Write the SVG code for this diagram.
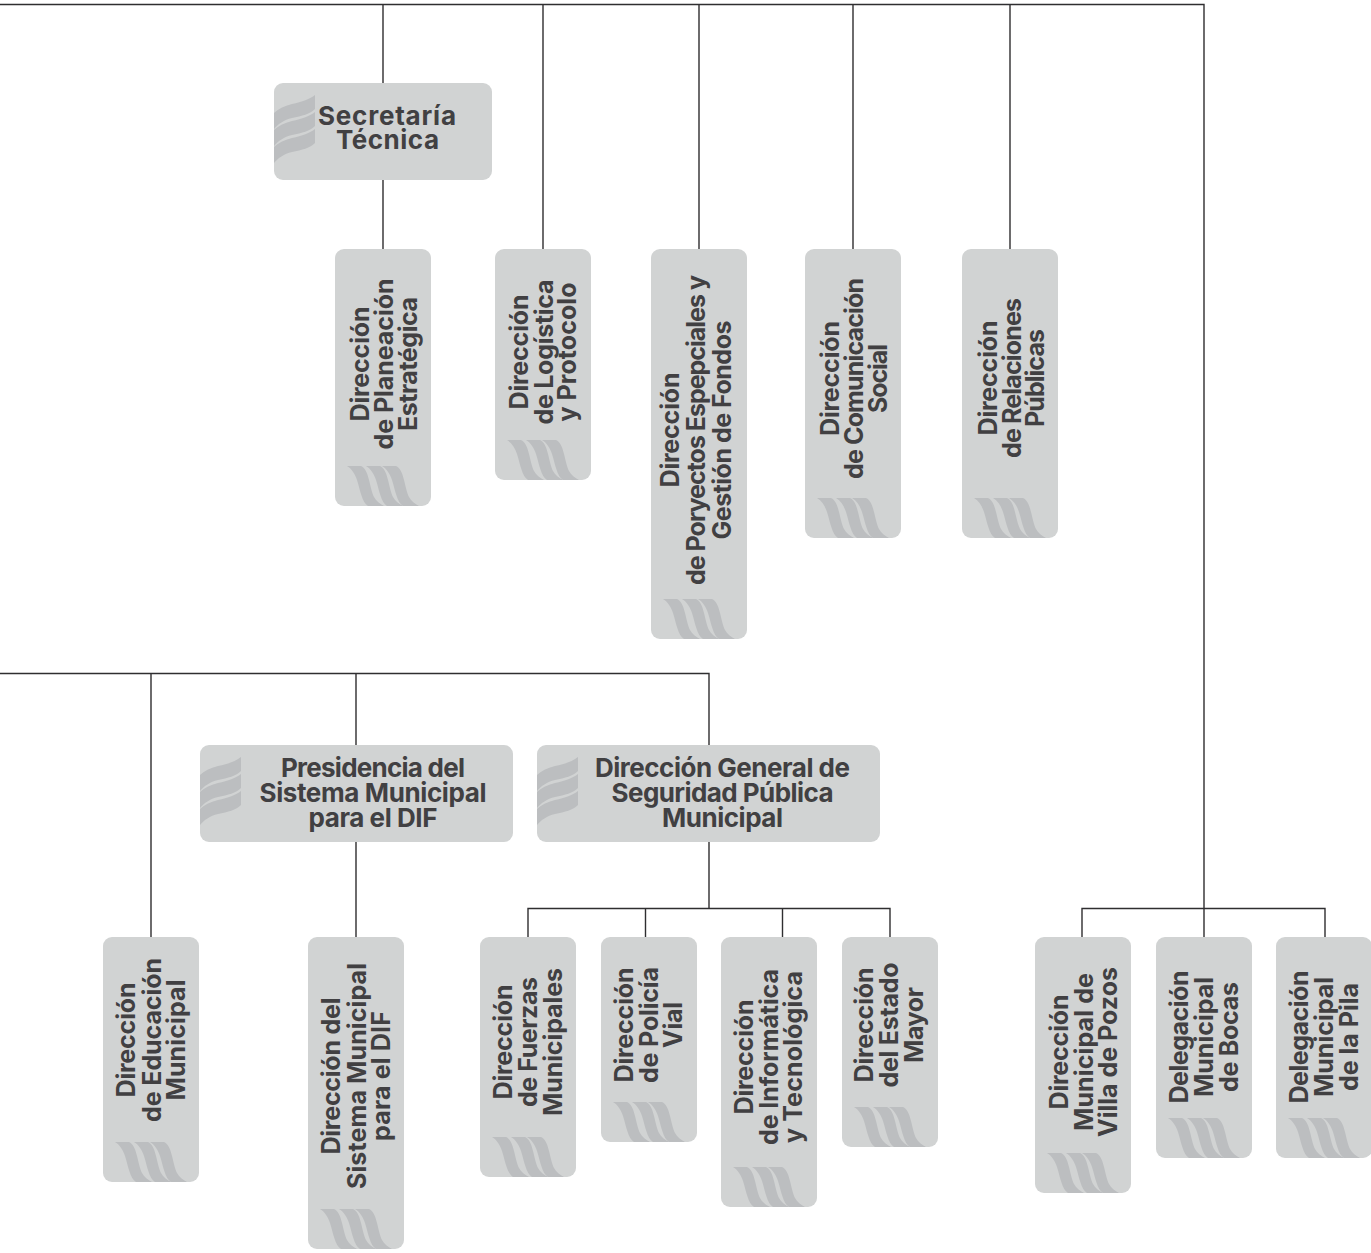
<svg xmlns="http://www.w3.org/2000/svg" width="1371" height="1253" viewBox="0 0 1371 1253">
<style>
.box{fill:#d1d3d3}
.w{fill:#bcbec0}
.con{fill:none;stroke:#2f2e30;stroke-width:1.4}
text{font-family:"Inter","Liberation Sans",sans-serif;font-weight:700;fill:#414042;text-anchor:middle;font-size:25px}
.h{font-size:26px}
</style>
<defs>
<path id="bv" class="w" d="M12,-40H26C31,-38 33,-30 34,-26C36,-18 37,-13 39,-9C41,-5 45,-2 49,0H33C30,-2 28,-6 27,-9C25,-14 24,-20 22,-26C20,-32 17,-37 12,-40Z"/>
<g id="wv"><use href="#bv"/><use href="#bv" x="19"/><use href="#bv" x="35"/></g>
<path id="bh" class="w" d="M0,30C4,26 10,23 18,21C28,19 36,16 41,12V26C36,31 28,33 18,35C10,37 4,41 0,46Z"/>
<g id="wh"><use href="#bh"/><use href="#bh" y="17"/><use href="#bh" y="34"/></g>
</defs>
<g id="connectors" class="con">
<path d="M0,4.500H1204V937M383,4.500V83M543,4.500V249M699,4.500V249M853,4.500V249M1010,4.500V249M383,180V249"/>
<path d="M1082,937V908.500H1325V937"/>
<path d="M0,673.500H709V745M151,673.500V937M356,673.500V745M356,842V937M709,842V908.500"/>
<path d="M528,937V908.500H890V937M645.500,908.500V937M782.500,908.500V937"/>
</g>
<g id="n-secretaria"><rect class="box" x="274" y="83" width="218" height="97" rx="9"/><use href="#wh" x="274" y="83"/><text class="h"><tspan x="387" y="125" textLength="138">Secretaría</tspan><tspan x="387.500" y="149" textLength="103">Técnica</tspan></text></g>
<g id="n-presidencia"><rect class="box" x="200" y="745" width="313" height="97" rx="9"/><use href="#wh" x="200" y="745"/><text class="h"><tspan x="373" y="777" textLength="184">Presidencia del</tspan><tspan x="373" y="802" textLength="227">Sistema Municipal</tspan><tspan x="373" y="827" textLength="129">para el DIF</tspan></text></g>
<g id="n-seguridad"><rect class="box" x="537" y="745" width="343" height="97" rx="9"/><use href="#wh" x="537" y="745"/><text class="h"><tspan x="722.500" y="777" textLength="255">Dirección General de</tspan><tspan x="722.500" y="802" textLength="222">Seguridad Pública</tspan><tspan x="722.500" y="827" textLength="121">Municipal</tspan></text></g>

<g id="n-planeacion"><rect class="box" x="335" y="249" width="96" height="257" rx="9"/><use href="#wv" x="335" y="506"/><text transform="translate(369,364) rotate(-90)"><tspan x="0" y="0" textLength="115">Dirección</tspan><tspan x="0" y="24" textLength="171">de Planeación</tspan><tspan x="0" y="48" textLength="134">Estratégica</tspan></text></g>
<g id="n-logistica"><rect class="box" x="495" y="249" width="96" height="231" rx="9"/><use href="#wv" x="495" y="480"/><text transform="translate(528,352) rotate(-90)"><tspan x="0" y="0" textLength="115">Dirección</tspan><tspan x="0" y="24.500" textLength="145">de Logística</tspan><tspan x="0" y="48" textLength="139">y Protocolo</tspan></text></g>
<g id="n-proyectos"><rect class="box" x="651" y="249" width="96" height="390" rx="9"/><use href="#wv" x="651" y="639"/><text transform="translate(679,430) rotate(-90)"><tspan x="0" y="0" textLength="115">Dirección</tspan><tspan x="0" y="26" textLength="310">de Poryectos Espepciales y</tspan><tspan x="0" y="52" textLength="219">Gestión de Fondos</tspan></text></g>
<g id="n-comunicacion"><rect class="box" x="805" y="249" width="96" height="289" rx="9"/><use href="#wv" x="805" y="538"/><text transform="translate(839,378.500) rotate(-90)"><tspan x="0" y="0" textLength="115">Dirección</tspan><tspan x="0" y="24" textLength="201">de Comunicación</tspan><tspan x="0" y="48" textLength="69">Social</tspan></text></g>
<g id="n-relaciones"><rect class="box" x="962" y="249" width="96" height="289" rx="9"/><use href="#wv" x="962" y="538"/><text transform="translate(997,378) rotate(-90)"><tspan x="0" y="0" textLength="115">Dirección</tspan><tspan x="0" y="23.500" textLength="160">de Relaciones</tspan><tspan x="0" y="47" textLength="98">Públicas</tspan></text></g>

<g id="n-educacion"><rect class="box" x="103" y="937" width="96" height="245" rx="9"/><use href="#wv" x="103" y="1182"/><text transform="translate(135,1040) rotate(-90)"><tspan x="0" y="0" textLength="115">Dirección</tspan><tspan x="0" y="26" textLength="164">de Educación</tspan><tspan x="0" y="50" textLength="121">Municipal</tspan></text></g>
<g id="n-dif"><rect class="box" x="308" y="937" width="96" height="312" rx="9"/><use href="#wv" x="308" y="1249"/><text transform="translate(340,1076) rotate(-90)"><tspan x="0" y="0" textLength="157">Dirección del</tspan><tspan x="0" y="26" textLength="226">Sistema Municipal</tspan><tspan x="0" y="50" textLength="130">para el DIF</tspan></text></g>
<g id="n-fuerzas"><rect class="box" x="480" y="937" width="96" height="240" rx="9"/><use href="#wv" x="480" y="1177"/><text transform="translate(512,1042) rotate(-90)"><tspan x="0" y="0" textLength="115">Dirección</tspan><tspan x="0" y="25" textLength="130">de Fuerzas</tspan><tspan x="0" y="50" textLength="148">Municipales</tspan></text></g>
<g id="n-policia"><rect class="box" x="601" y="937" width="96" height="205" rx="9"/><use href="#wv" x="601" y="1142"/><text transform="translate(633,1025) rotate(-90)"><tspan x="0" y="0" textLength="115">Dirección</tspan><tspan x="0" y="25" textLength="116">de Policía</tspan><tspan x="0" y="49" textLength="46">Vial</tspan></text></g>
<g id="n-informatica"><rect class="box" x="721" y="937" width="96" height="270" rx="9"/><use href="#wv" x="721" y="1207"/><text transform="translate(753,1057) rotate(-90)"><tspan x="0" y="0" textLength="115">Dirección</tspan><tspan x="0" y="24.500" textLength="176">de Informática</tspan><tspan x="0" y="49" textLength="172">y Tecnológica</tspan></text></g>
<g id="n-estado"><rect class="box" x="842" y="937" width="96" height="210" rx="9"/><use href="#wv" x="842" y="1147"/><text transform="translate(873,1025) rotate(-90)"><tspan x="0" y="0" textLength="115">Dirección</tspan><tspan x="0" y="25" textLength="125">del Estado</tspan><tspan x="0" y="50" textLength="76">Mayor</tspan></text></g>
<g id="n-villa"><rect class="box" x="1035" y="937" width="96" height="256" rx="9"/><use href="#wv" x="1035" y="1193"/><text transform="translate(1068,1052) rotate(-90)"><tspan x="0" y="0" textLength="115">Dirección</tspan><tspan x="0" y="24.500" textLength="158">Municipal de</tspan><tspan x="0" y="49" textLength="170">Villa de Pozos</tspan></text></g>
<g id="n-bocas"><rect class="box" x="1156" y="937" width="96" height="221" rx="9"/><use href="#wv" x="1156" y="1158"/><text transform="translate(1188,1037) rotate(-90)"><tspan x="0" y="0" textLength="133">Delegación</tspan><tspan x="0" y="25" textLength="120">Municipal</tspan><tspan x="0" y="50" textLength="110">de Bocas</tspan></text></g>
<g id="n-pila"><rect class="box" x="1276" y="937" width="96" height="221" rx="9"/><use href="#wv" x="1276" y="1158"/><text transform="translate(1308,1037) rotate(-90)"><tspan x="0" y="0" textLength="133">Delegación</tspan><tspan x="0" y="25" textLength="120">Municipal</tspan><tspan x="0" y="50" textLength="108">de la Pila</tspan></text></g>
</svg>
